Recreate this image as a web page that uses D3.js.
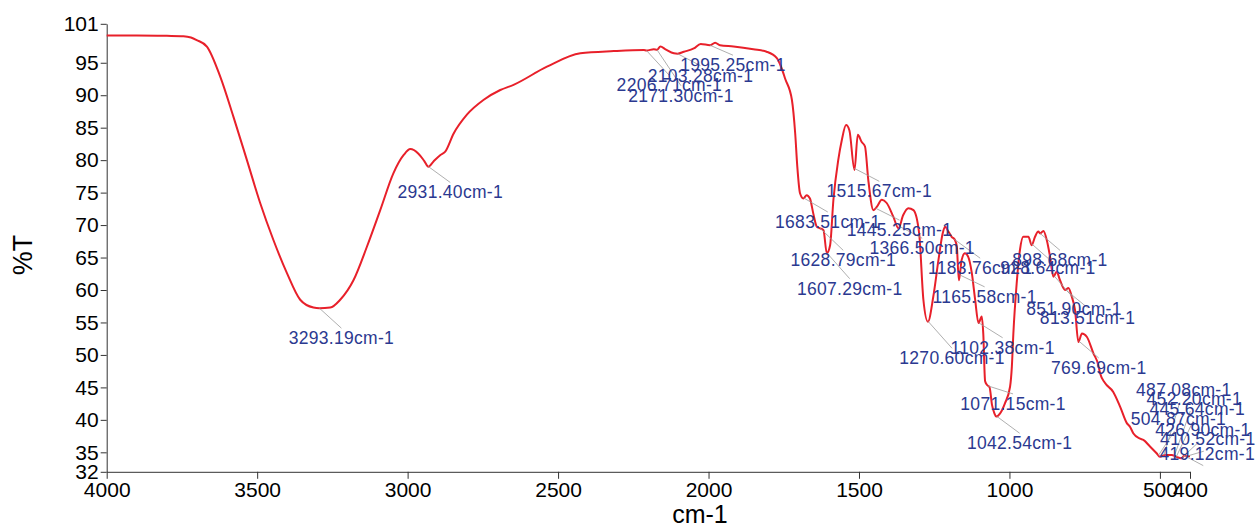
<!DOCTYPE html>
<html>
<head>
<meta charset="utf-8">
<script src="https://cdn.jsdelivr.net/npm/d3@7"></script>
<style>
  body { margin: 0; background: #fff; }
  svg { display: block; }
  text { font-family: Arial, "Liberation Sans", sans-serif; }
</style>
</head>
<body>
<svg id="chart" width="1258" height="527"></svg>
<script>
// spectrum (wavenumber in cm-1, %T)
const wavenumbers = [
  4000, 3900, 3800, 3745, 3720, 3701, 3667, 3623, 3579, 3534, 3490, 3446, 3401, 3357, 3313, 3293,
  3257, 3224, 3180, 3135, 3091, 3047, 3013, 2991, 2964, 2945, 2931, 2914, 2891, 2875, 2847, 2803,
  2747, 2692, 2648, 2537, 2426, 2315, 2215, 2206, 2182, 2171, 2160, 2143, 2115, 2103, 2082, 2049,
  2026, 1995, 1978, 1962, 1917, 1851, 1807, 1773, 1760, 1745, 1723, 1712, 1705, 1696, 1685, 1674,
  1663, 1652, 1640, 1629, 1618, 1607, 1596, 1585, 1569, 1557, 1543, 1532, 1515, 1504, 1491, 1480,
  1469, 1452, 1441, 1424, 1408, 1386, 1369, 1353, 1336, 1319, 1300, 1286, 1271, 1253, 1236, 1222,
  1214, 1203, 1192, 1181, 1175, 1168, 1159, 1148, 1137, 1125, 1114, 1103, 1092, 1087, 1081, 1075,
  1066, 1058, 1050, 1044, 1031, 1015, 998, 992, 987, 976, 965, 954, 937, 926, 915, 904,
  898, 887, 876, 865, 854, 843, 832, 815, 804, 793, 782, 771, 759, 743, 721, 705,
  699, 683, 655, 632, 610, 599, 588, 566, 555, 533, 511, 500, 483, 461, 445, 428,
  419, 410, 400
];
const transmittance = [
  99.2, 99.2, 99.15, 99.1, 98.9, 98.5, 97.5, 92.9, 86.7, 80.0, 73.4, 67.7, 62.6, 58.5, 57.3, 57.2,
  57.3, 58.5, 61.5, 66.7, 72.3, 78.0, 80.8, 81.7, 81.0, 79.9, 79.0, 79.8, 80.8, 81.3, 84.1, 87.0,
  89.3, 90.8, 91.6, 94.4, 96.45, 96.8, 96.97, 96.9, 97.07, 97.0, 97.5, 97.07, 96.45, 96.4, 96.7, 97.2,
  97.9, 97.7, 98.1, 97.7, 97.5, 97.07, 96.7, 95.7, 94.5, 92.5, 89.3, 84.1, 79.0, 74.9, 74.1, 74.6,
  74.1, 71.8, 69.75, 69.5, 69.2, 65.65, 66.9, 73.9, 80.0, 83.1, 85.4, 84.6, 78.5, 83.9, 82.8, 82.1,
  76.9, 72.3, 72.8, 73.9, 73.4, 71.3, 69.5, 71.55, 72.6, 72.3, 68.7, 58.5, 55.1, 59.0, 64.6, 68.7,
  69.75, 69.0, 68.2, 67.7, 66.7, 61.5, 64.6, 65.65, 65.1, 62.6, 58.5, 54.9, 55.9, 53.3, 46.0, 45.4,
  45.0, 42.3, 41.0, 40.5, 41.0, 42.55, 45.1, 48.2, 53.3, 61.0, 66.2, 68.2, 68.2, 66.9, 68.2, 69.0,
  68.7, 69.1, 67.7, 65.1, 62.05, 62.8, 61.5, 60.0, 60.3, 59.0, 56.9, 52.0, 53.3, 52.8, 50.25, 48.5,
  47.2, 45.7, 44.3, 42.0, 39.5, 38.9, 37.9, 37.1, 36.9, 35.9, 34.85, 34.3, 34.6, 34.6, 34.3, 34.1,
  34.5, 34.4, 34.4
];

// annotated peaks (cm-1)
const peakWavenumbers = [
  3293.19, 2931.40, 2206.71, 2171.30, 2103.28, 1995.25, 1515.67, 1683.51, 1445.25, 1628.79,
  1366.50, 1607.29, 1183.76, 1165.58, 1270.60, 1102.38, 898.68, 928.64, 851.90, 813.51,
  769.69, 1071.15, 1042.54, 487.08, 452.20, 445.64, 504.87, 426.90, 410.52, 419.12
];

const xTicks = [4000, 3500, 3000, 2500, 2000, 1500, 1000, 500, 400];
const yTicks = [32, 35, 40, 45, 50, 55, 60, 65, 70, 75, 80, 85, 90, 95, 101];

// label placement: offset of text centre / baseline from the peak point (px)
const labelOffsets = [
  [22, 36], [22, 32], [23, 41], [24, 52], [23, 28], [23, 26], [25, 29], [24, 30], [24, 28], [23, 38],
  [23, 28], [23, 42], [26, 35], [25, 28], [24, 43], [24, 31], [20, 33], [17, 31], [20, 39], [22, 34],
  [20, 33], [25, 24], [23, 33], [20, -59], [20, -51], [21, -42], [20, -30], [21, -22], [21, -11], [23, 4]
];

const svg = d3.select('#chart');

const x = d3.scaleLinear().domain([4000, 400]).range([106.7, 1190]);
const y = d3.scaleLinear().domain([32, 101]).range([471.8, 23.8]);

const spectrum = wavenumbers.map((w, i) => ({ w, t: transmittance[i] }));

// %T at any wavenumber, from the traced points
const tAt = w => {
  const i = spectrum.findIndex(d => d.w <= w);
  if (i <= 0) return spectrum[Math.max(i, 0)].t;
  const a = spectrum[i - 1], b = spectrum[i];
  return a.t + (b.t - a.t) * (a.w - w) / (a.w - b.w);
};

const xAxis = svg.append('g').attr('transform', `translate(0, ${y(32)})`);
xAxis
  .call(d3.axisBottom(x).tickValues(xTicks).tickSize(7).tickSizeOuter(0).tickPadding(3).tickFormat(d3.format('d')))
  .call(g => g.select('.domain').attr('stroke', '#333'))
  .call(g => g.selectAll('.tick line').attr('stroke', '#333'))
  .call(g => g.selectAll('.tick text').attr('fill', '#000').style('font-size', '21px'));

const yAxis = svg.append('g').attr('transform', `translate(${x(4000)}, 0)`);
yAxis
  .call(d3.axisLeft(y).tickValues(yTicks).tickSize(6).tickSizeOuter(0).tickPadding(2))
  .call(g => g.select('.domain').attr('stroke', '#333'))
  .call(g => g.selectAll('.tick line').attr('stroke', '#333'))
  .call(g => g.selectAll('.tick text').attr('fill', '#000').style('font-size', '21px'));

svg.append('text')
  .attr('transform', 'translate(32, 255) rotate(-90)')
  .attr('text-anchor', 'middle')
  .style('font-size', '27px')
  .text('%T');

svg.append('text')
  .attr('x', 700)
  .attr('y', 523)
  .attr('text-anchor', 'middle')
  .style('font-size', '25px')
  .text('cm-1');

const line = d3.line()
  .x(d => x(d.w))
  .y(d => y(d.t))
  .curve(d3.curveMonotoneX);

svg.append('path')
  .datum(spectrum)
  .attr('fill', 'none')
  .attr('stroke', '#e8202a')
  .attr('stroke-width', 2)
  .attr('stroke-linejoin', 'round')
  .attr('d', line);

const notes = peakWavenumbers.map((w, i) => {
  const px = x(w), py = y(tAt(w));
  const [dx, dy] = labelOffsets[i];
  const cx = px + dx, base = py + dy;
  const end = dy >= 16 ? [cx, base - 16] : [cx - 4, base + 6];
  return { w, px, py, cx, base, end };
});

svg.append('g')
  .selectAll('line')
  .data(notes)
  .join('line')
  .attr('x1', d => d.px)
  .attr('y1', d => d.py)
  .attr('x2', d => d.end[0])
  .attr('y2', d => d.end[1])
  .attr('stroke', '#9a9a9a')
  .attr('stroke-width', 0.8);

svg.append('g')
  .selectAll('text')
  .data(notes)
  .join('text')
  .attr('x', d => d.cx)
  .attr('y', d => d.base)
  .attr('text-anchor', 'middle')
  .attr('fill', '#2b3990')
  .style('font-size', '17.5px')
  .style('letter-spacing', '0.3px')
  .text(d => `${d.w.toFixed(2)}cm-1`);
</script>
</body>
</html>
